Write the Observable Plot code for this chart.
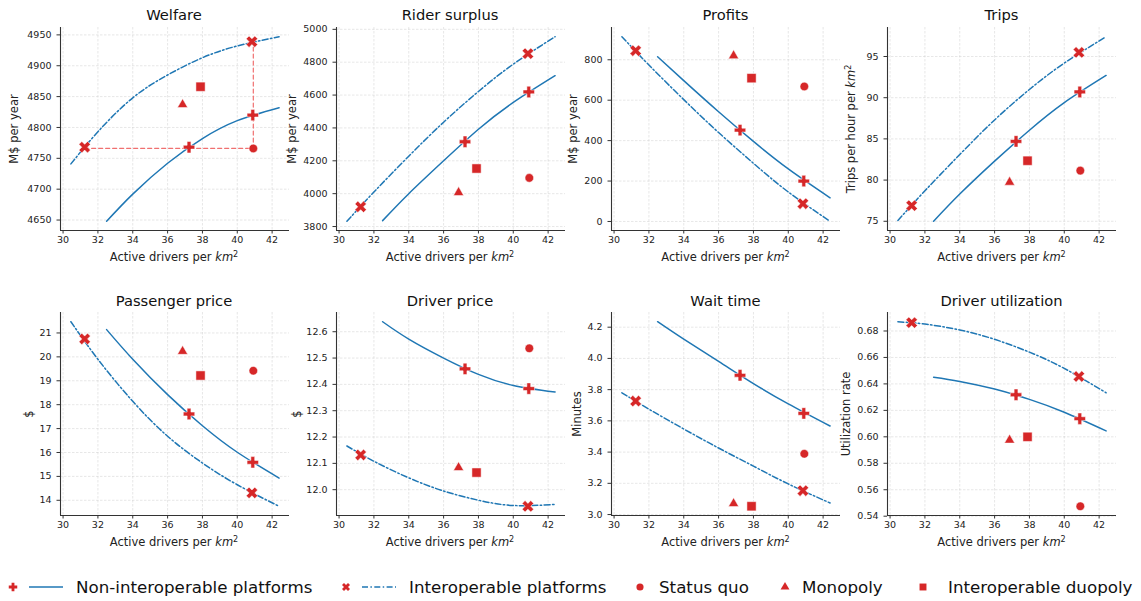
<!DOCTYPE html>
<html><head><meta charset="utf-8">
<script src="https://cdn.jsdelivr.net/npm/d3@7"></script>
<script src="https://cdn.jsdelivr.net/npm/@observablehq/plot@0.6"></script>
<style>
body{margin:0;background:#fff;font-family:"DejaVu Sans",sans-serif;color:#222}
#root{position:relative;width:1141px;height:601px;overflow:hidden;background:#fff}
.abs{position:absolute;white-space:nowrap;line-height:1}
.title{font-size:14.7px;transform:translate(-50%,-50%);color:#111}
.xlab{font-size:11.5px;transform:translate(-50%,-50%)}
.ylab{font-size:11.5px;transform:translate(-50%,-50%) rotate(-90deg)}
sup{font-size:0.7em;vertical-align:0.55em;line-height:0}
#root svg{position:absolute}
</style></head><body><div id="root"></div>
<script>
// ---------------- data ----------------
const xTicks = [30, 32, 34, 36, 38, 40, 42];
const nonInteropX = [32.5, 34, 36, 38, 40, 42.4];          // solid curve grid
const interopX = [30.45, 32, 34, 36, 38, 40, 42.4];        // dash-dot curve grid
const nonInteropPtsX = [37.23, 40.89];
const interopPtsX = [31.24, 40.84];
const statusQuoX = 40.92, monopolyX = 36.86, duopolyX = 37.89;

const titles = ["Welfare", "Rider surplus", "Profits", "Trips",
  "Passenger price", "Driver price", "Wait time", "Driver utilization"];
const yLabels = ["M$ per year", "M$ per year", "M$ per year", "Trips per hour per <i>km</i><sup>2</sup>",
  "$", "$", "Minutes", "Utilization rate"];
const yTicks = [
  [4650, 4700, 4750, 4800, 4850, 4900, 4950],
  [3800, 4000, 4200, 4400, 4600, 4800, 5000],
  [0, 200, 400, 600, 800],
  [75, 80, 85, 90, 95],
  [14, 15, 16, 17, 18, 19, 20, 21],
  [12.0, 12.1, 12.2, 12.3, 12.4, 12.5, 12.6],
  [3.0, 3.2, 3.4, 3.6, 3.8, 4.0, 4.2],
  [0.54, 0.56, 0.58, 0.60, 0.62, 0.64, 0.66, 0.68]
];
const yFormats = ["d", "d", "d", "d", "d", ".1f", ".1f", ".2f"];

const nonInteropY = [
  [4648, 4692, 4742, 4782, 4811, 4832],
  [3836, 4000, 4200, 4392, 4555, 4718],
  [815, 697, 543, 396, 260, 117],
  [75.0, 78.3, 82.3, 86.05, 89.4, 92.7],
  [21.14, 19.90, 18.42, 17.12, 16.01, 14.93],
  [12.638, 12.572, 12.5, 12.438, 12.396, 12.371],
  [4.235, 4.123, 3.981, 3.839, 3.709, 3.567],
  [0.6450, 0.6419, 0.6361, 0.6283, 0.6186, 0.6045]
];
const interopY = [
  [4741, 4793, 4848, 4885, 4913, 4932, 4947],
  [3832, 4010, 4228, 4435, 4622, 4788, 4955],
  [914, 774, 603, 440, 288, 146, 1],
  [75.1, 78.7, 83.1, 87.3, 91.0, 94.2, 97.4],
  [21.47, 19.9, 18.14, 16.68, 15.56, 14.65, 13.75],
  [12.166, 12.108, 12.045, 11.995, 11.96, 11.94, 11.944],
  [3.78, 3.675, 3.548, 3.426, 3.31, 3.196, 3.074],
  [0.6870, 0.6852, 0.6808, 0.6737, 0.6640, 0.6517, 0.6333]
];
const nonInteropPtsY = [[4768, 4820], [4316, 4619], [452, 200], [84.7, 90.7],
  [17.61, 15.59], [12.459, 12.384], [3.892, 3.648], [0.6318, 0.6137]];
const interopPtsY = [[4768, 4939], [3920, 4852], [845, 88], [76.9, 95.5],
  [20.75, 14.31], [12.132, 11.937], [3.727, 3.153], [0.6863, 0.6456]];
const statusQuoY = [4766, 4096, 668, 81.15, 19.42, 12.537, 3.389, 0.5475];
const monopolyY = [4837, 4007, 820, 79.74, 20.23, 12.084, 3.07, 0.5975];
const duopolyY = [4866, 4153, 709, 82.35, 19.22, 12.065, 3.053, 0.600];

const legendItems = ["Non-interoperable platforms", "Interoperable platforms", "Status quo", "Monopoly", "Interoperable duopoly"];

// ---------------- styling / layout ----------------
const blue = "#1f77b4", red = "#d62728";
const colX = [59.5, 335.5, 611, 887], rowY = [27, 312];
const PW = 229, PH = 203;
const yLabelX = [15, 293, 574, 852, 30, 298, 578, 847];
const M = {l: 55, r: 12, t: 10, b: 26};

const symbolX = {
  draw(ctx, size) {
    const r = Math.sqrt(size / 5) / 2, c = Math.SQRT1_2;
    const pts = [[-3*r,-r],[-r,-r],[-r,-3*r],[r,-3*r],[r,-r],[3*r,-r],[3*r,r],[r,r],[r,3*r],[-r,3*r],[-r,r],[-3*r,r]];
    pts.forEach(([x, y], i) => { const X = (x - y) * c, Y = (x + y) * c; i ? ctx.lineTo(X, Y) : ctx.moveTo(X, Y); });
    ctx.closePath();
  }
};

function padExtent(vals) { const [a, b] = d3.extent(vals); const p = (b - a) * 0.05; return [a - p, b + p]; }
const xDomain = padExtent([...nonInteropX, ...interopX]);

const root = document.getElementById("root");
function addDiv(cls, html, x, y) {
  const d = document.createElement("div");
  d.className = "abs " + cls; d.innerHTML = html;
  d.style.left = x + "px"; d.style.top = y + "px";
  root.appendChild(d);
}

titles.forEach((title, i) => {
  const col = i % 4, row = Math.floor(i / 4);
  const x0 = colX[col], y0 = rowY[row];
  const solid = nonInteropX.map((x, k) => ({x, y: nonInteropY[i][k]}));
  const dashed = interopX.map((x, k) => ({x, y: interopY[i][k]}));
  const plusPts = nonInteropPtsX.map((x, k) => ({x, y: nonInteropPtsY[i][k]}));
  const xPts = interopPtsX.map((x, k) => ({x, y: interopPtsY[i][k]}));
  const yDomain = padExtent([...nonInteropY[i], ...interopY[i], ...nonInteropPtsY[i], ...interopPtsY[i],
    statusQuoY[i], monopolyY[i], duopolyY[i]]);
  const marks = [
    Plot.gridX(xTicks, {stroke: "#c8c8c8", strokeOpacity: 0.55, strokeDasharray: "2.5,1.5", strokeWidth: 0.8}),
    Plot.gridY(yTicks[i], {stroke: "#c8c8c8", strokeOpacity: 0.55, strokeDasharray: "2.5,1.5", strokeWidth: 0.8}),
    Plot.ruleX([xDomain[0]], {stroke: "#333", strokeWidth: 1.1}),
    Plot.ruleY([yDomain[0]], {stroke: "#333", strokeWidth: 1.1}),
    Plot.axisX(xTicks, {tickSize: 3.5, tickPadding: 2, label: null, fontSize: 9.5, stroke: "#333"}),
    Plot.axisY(yTicks[i], {tickSize: 3.5, tickPadding: 5.5, label: null, fontSize: 9.5, stroke: "#333",
      tickFormat: d3.format(yFormats[i])})
  ];
  if (i === 0) {
    const guide = [
      {x: interopPtsX[0], y: statusQuoY[i]},
      {x: statusQuoX, y: statusQuoY[i]},
      {x: statusQuoX, y: interopPtsY[i][1]}
    ];
    marks.push(Plot.line(guide, {x: "x", y: "y", stroke: "#f07070", strokeWidth: 1.2, strokeDasharray: "4,3"}));
  }
  marks.push(
    Plot.line(solid, {x: "x", y: "y", stroke: blue, strokeWidth: 1.5, curve: "natural"}),
    Plot.line(dashed, {x: "x", y: "y", stroke: blue, strokeWidth: 1.5, curve: "natural", strokeDasharray: "6,2.4,1.5,2.4"}),
    Plot.dot(plusPts, {x: "x", y: "y", symbol: "cross", r: 4.8, fill: red, stroke: "white", strokeWidth: 0.5}),
    Plot.dot(xPts, {x: "x", y: "y", symbol: symbolX, r: 5.1, fill: red, stroke: "white", strokeWidth: 0.5}),
    Plot.dot([{x: statusQuoX, y: statusQuoY[i]}], {x: "x", y: "y", symbol: "circle", r: 4.3, fill: red, stroke: "white", strokeWidth: 0.5}),
    Plot.dot([{x: monopolyX, y: monopolyY[i]}], {x: "x", y: "y", symbol: "triangle", r: 3.8, fill: red, stroke: "white", strokeWidth: 0.5}),
    Plot.dot([{x: duopolyX, y: duopolyY[i]}], {x: "x", y: "y", symbol: "square", r: 5.2, fill: red, stroke: "white", strokeWidth: 0.5})
  );
  const chart = Plot.plot({
    width: PW + M.l + M.r, height: PH + M.t + M.b,
    marginLeft: M.l, marginRight: M.r, marginTop: M.t, marginBottom: M.b,
    style: {background: "transparent", fontFamily: "DejaVu Sans, sans-serif", fontSize: "9.5px", color: "#222", overflow: "visible"},
    x: {domain: xDomain},
    y: {domain: yDomain},
    marks
  });
  chart.style.position = "absolute";
  chart.style.left = (x0 - M.l) + "px";
  chart.style.top = (y0 - M.t) + "px";
  root.appendChild(chart);

  addDiv("title", title, x0 + PW / 2, row === 0 ? 15 : 300.5);
  addDiv("xlab", "Active drivers per <i>km</i><sup>2</sup>", x0 + PW / 2, y0 + PH + 28);
  addDiv("ylab", yLabels[i], yLabelX[i], y0 + PH / 2);
});

// ---------------- legend ----------------
const ns = "http://www.w3.org/2000/svg";
const lg = document.createElementNS(ns, "svg");
lg.setAttribute("width", 1141); lg.setAttribute("height", 34);
lg.style.position = "absolute"; lg.style.left = "0px"; lg.style.top = "570px";
root.appendChild(lg);
const cy = 17;
function addPath(d, tx, fill) {
  const p = document.createElementNS(ns, "path");
  p.setAttribute("d", d); p.setAttribute("transform", `translate(${tx},${cy})`);
  p.setAttribute("fill", fill); lg.appendChild(p);
}
function addLine(x1, x2, dash) {
  const l = document.createElementNS(ns, "line");
  l.setAttribute("x1", x1); l.setAttribute("x2", x2); l.setAttribute("y1", cy); l.setAttribute("y2", cy);
  l.setAttribute("stroke", blue); l.setAttribute("stroke-width", 1.5);
  if (dash) l.setAttribute("stroke-dasharray", dash);
  lg.appendChild(l);
}
function addText(x, s) {
  const t = document.createElementNS(ns, "text");
  t.setAttribute("x", x); t.setAttribute("y", cy); t.setAttribute("dy", "0.35em");
  t.setAttribute("font-family", "DejaVu Sans, sans-serif"); t.setAttribute("font-size", "16.7px");
  t.setAttribute("fill", "#111"); t.textContent = s; lg.appendChild(t);
}
addPath(d3.symbol(d3.symbolCross, 40)(), 13, red);
addLine(29, 63);
addText(76, legendItems[0]);
addPath(d3.symbol(symbolX, 40)(), 346, red);
addLine(362, 396, "6,2.4,1.5,2.4");
addText(409, legendItems[1]);
addPath(d3.symbol(d3.symbolCircle, 40)(), 640, red);
addText(659, legendItems[2]);
addPath(d3.symbol(d3.symbolTriangle, 34)(), 785, red);
addText(802, legendItems[3]);
addPath(d3.symbol(d3.symbolSquare, 48)(), 923, red);
addText(948, legendItems[4]);
</script></body></html>
